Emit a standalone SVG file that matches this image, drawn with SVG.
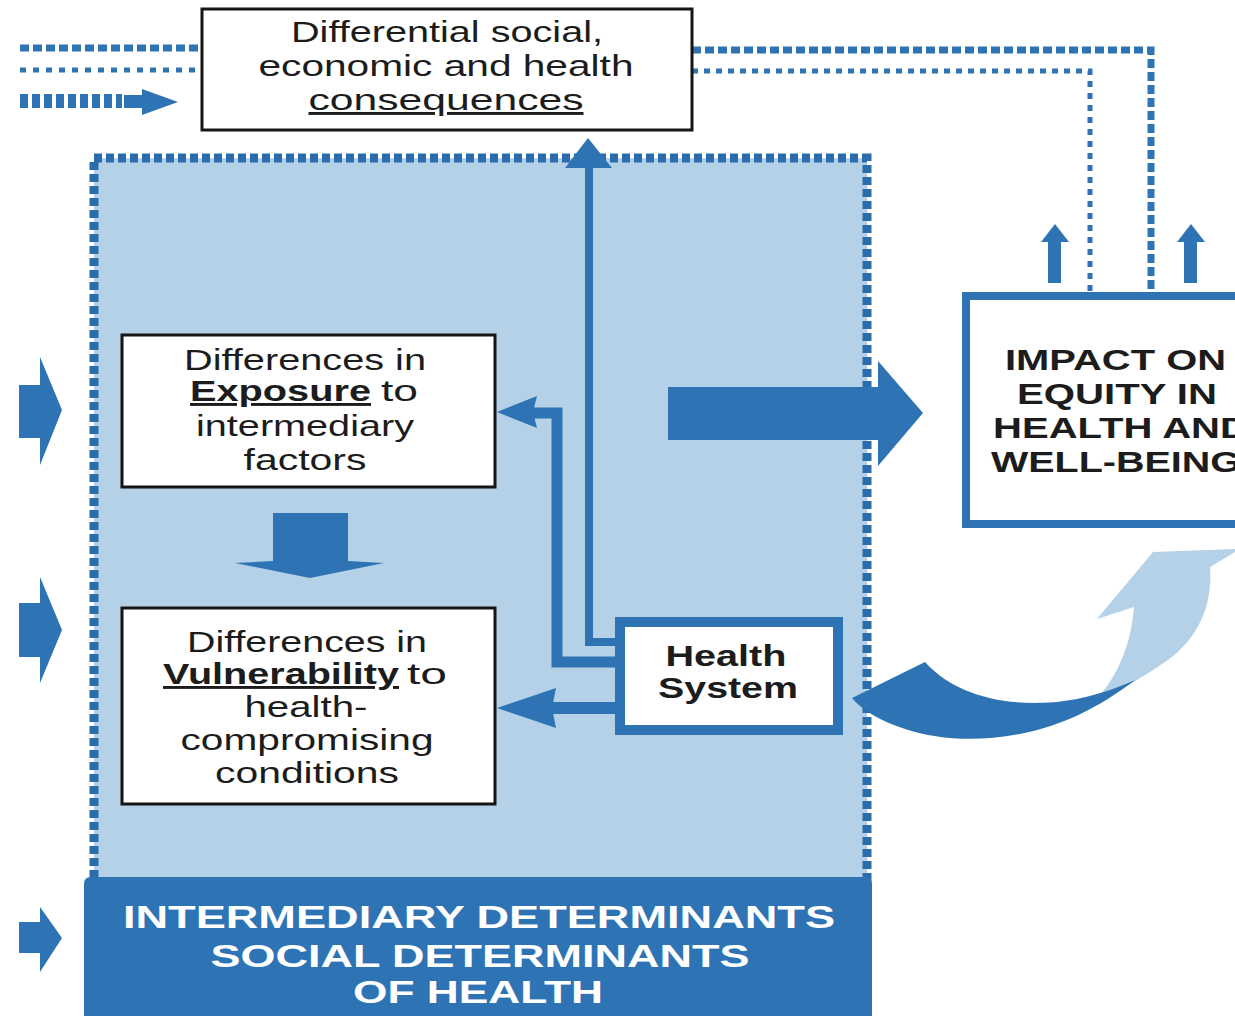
<svg xmlns="http://www.w3.org/2000/svg" width="1235" height="1016" viewBox="0 0 1235 1016">
<defs>
<style>
.t{font-family:"Liberation Sans",Arial,sans-serif;font-size:29px;fill:#1c1c1c;}
.b{font-weight:bold;}
.w{fill:#ffffff;font-weight:bold;font-size:31px;}
.u{text-decoration:underline;}
.box{fill:#ffffff;stroke:#151515;stroke-width:3;}
.bbox{fill:#ffffff;stroke:#2e74b5;}
.ln{fill:none;stroke:#2e74b5;}
.fill{fill:#2e74b5;}
</style>
</defs>
<rect width="1235" height="1016" fill="#ffffff"/>

<!-- intermediary region -->
<g id="region">
<rect x="94" y="158" width="773" height="740" fill="#b4d1e7"/>
<path d="M94,890 V158 H867 V890" fill="none" stroke="#2a6cad" stroke-width="9" stroke-dasharray="8 4"/>
</g>
<g id="intermediary">
<path d="M84,1016 V884 Q84,877 91,877 H865 Q872,877 872,884 V1016 Z" fill="#2e74b5"/>
<text class="t w" x="479" y="928" text-anchor="middle" textLength="712" lengthAdjust="spacingAndGlyphs">INTERMEDIARY DETERMINANTS</text>
<text class="t w" x="480" y="967" text-anchor="middle" textLength="539" lengthAdjust="spacingAndGlyphs">SOCIAL DETERMINANTS</text>
<text class="t w" x="478" y="1003" text-anchor="middle" textLength="250" lengthAdjust="spacingAndGlyphs">OF HEALTH</text>
</g>

<g id="connectors">
<!-- top-left incoming lines -->
<line class="ln" x1="20" y1="48" x2="202" y2="48" stroke-width="7" stroke-dasharray="9 4"/>
<line class="ln" x1="20" y1="70" x2="202" y2="70" stroke-width="5" stroke-dasharray="6 7"/>
<line class="ln" x1="20" y1="101" x2="122" y2="101" stroke-width="14" stroke-dasharray="8 4"/>
<polygon class="fill" points="124,95 142,95 142,89 178,102 142,115 142,108 124,108"/>
<!-- top-right return lines -->
<path class="ln" d="M692,50 H1151 V292" stroke-width="7" stroke-dasharray="9 4"/>
<path class="ln" d="M692,71 H1090 V292" stroke-width="5" stroke-dasharray="6 6"/>
<!-- up arrows above impact box -->
<polygon class="fill" points="1048,283 1061,283 1061,242 1069,242 1055,224 1041,242 1048,242"/>
<polygon class="fill" points="1184,283 1197,283 1197,242 1205,242 1191,224 1177,242 1184,242"/>
<!-- left incoming block arrows -->
<polygon class="fill" points="19,385 40,385 40,357 62,410 40,465 40,438 19,438"/>
<polygon class="fill" points="19,603 40,603 40,577 62,630 40,683 40,657 19,657"/>
<polygon class="fill" points="19,922 40,922 40,907 62,938 40,972 40,953 19,953"/>
<!-- exposure to vulnerability -->
<polygon class="fill" points="273,513 348,513 348,561 384,563 310,578 235,563 273,561"/>
<!-- health system to consequences -->
<path class="ln" d="M622,642 H589 V165" stroke-width="8"/>
<polygon class="fill" points="565,168 612,168 588,138"/>
<!-- health system to exposure -->
<path class="ln" d="M622,662 H557 V413 H528" stroke-width="11"/>
<polygon class="fill" points="497,412 537,396 533,412 537,428"/>
<!-- health system to vulnerability -->
<path class="ln" d="M622,708 H548" stroke-width="12"/>
<polygon class="fill" points="497,708 556,688 552,708 556,728"/>
<!-- big arrow to impact -->
<polygon class="fill" points="668,387 878,387 878,361 923,413 878,466 878,440 668,440"/>
<!-- curved arrow from health system -->
<path d="M1090,705 C1116,682 1131,646 1134,607 L1097,619 L1153,552 L1235,549 L1235,552 L1210,567 C1213,605 1198,640 1165,662 C1145,676 1118,692 1090,705 Z" fill="#b4d1e7"/>
<path d="M852,698 L925,662 C950,690 990,703 1035,703 C1075,703 1108,692 1135,680 C1100,707 1062,726 1020,734 C978,742 938,740 905,729 C880,721 862,710 852,698 Z" fill="#2e74b5"/>
</g>

<g id="consequences">
<rect class="box" x="202" y="9" width="490" height="121"/>
<text class="t" x="447" y="42" text-anchor="middle" textLength="312" lengthAdjust="spacingAndGlyphs">Differential social,</text>
<text class="t" x="446" y="76" text-anchor="middle" textLength="375" lengthAdjust="spacingAndGlyphs">economic and health</text>
<text class="t u" x="446" y="110" text-anchor="middle" textLength="275" lengthAdjust="spacingAndGlyphs">consequences</text>
</g>

<g id="exposure">
<rect class="box" x="122" y="335" width="373" height="152"/>
<text class="t" x="305" y="370" text-anchor="middle" textLength="242" lengthAdjust="spacingAndGlyphs">Differences in</text>
<text class="t b u" x="190" y="401" textLength="181" lengthAdjust="spacingAndGlyphs">Exposure</text>
<text class="t" x="381" y="401" textLength="37" lengthAdjust="spacingAndGlyphs">to</text>
<text class="t" x="305" y="436" text-anchor="middle" textLength="218" lengthAdjust="spacingAndGlyphs">intermediary</text>
<text class="t" x="305" y="470" text-anchor="middle" textLength="123" lengthAdjust="spacingAndGlyphs">factors</text>
</g>

<g id="vulnerability">
<rect class="box" x="122" y="608" width="373" height="196"/>
<text class="t" x="307" y="652" text-anchor="middle" textLength="240" lengthAdjust="spacingAndGlyphs">Differences in</text>
<text class="t b u" x="163" y="684" textLength="236" lengthAdjust="spacingAndGlyphs">Vulnerability</text>
<text class="t" x="407" y="684" textLength="40" lengthAdjust="spacingAndGlyphs">to</text>
<text class="t" x="306" y="717" text-anchor="middle" textLength="123" lengthAdjust="spacingAndGlyphs">health-</text>
<text class="t" x="307" y="750" text-anchor="middle" textLength="253" lengthAdjust="spacingAndGlyphs">compromising</text>
<text class="t" x="307" y="783" text-anchor="middle" textLength="184" lengthAdjust="spacingAndGlyphs">conditions</text>
</g>

<g id="health-system">
<rect class="bbox" x="620" y="622" width="218" height="108" stroke-width="10"/>
<text class="t b" x="726" y="666" text-anchor="middle" textLength="121" lengthAdjust="spacingAndGlyphs">Health</text>
<text class="t b" x="728" y="698" text-anchor="middle" textLength="140" lengthAdjust="spacingAndGlyphs">System</text>
</g>

<g id="impact">
<rect class="bbox" x="966" y="296" width="300" height="228" stroke-width="8"/>
<text class="t b" x="1005" y="370" textLength="221" lengthAdjust="spacingAndGlyphs">IMPACT ON</text>
<text class="t b" x="1017" y="404" textLength="200" lengthAdjust="spacingAndGlyphs">EQUITY IN</text>
<text class="t b" x="993" y="438" textLength="256" lengthAdjust="spacingAndGlyphs">HEALTH AND</text>
<text class="t b" x="991" y="472" textLength="250" lengthAdjust="spacingAndGlyphs">WELL-BEING</text>
</g>
</svg>
